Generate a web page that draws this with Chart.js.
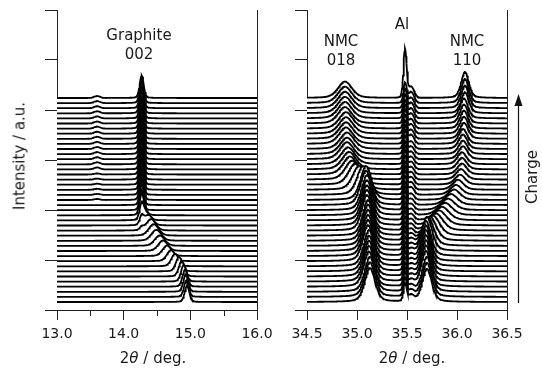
<!DOCTYPE html>
<html>
<head>
<meta charset="utf-8">
<script src="https://cdn.jsdelivr.net/npm/chart.js@4.4.0/dist/chart.umd.min.js"></script>
<style>
  body { margin: 0; background: #fff; }
  #wrap { position: relative; width: 542px; height: 373px; font-family: "DejaVu Sans", sans-serif; color: #1a1a1a; }
  canvas { position: absolute; top: 0; }
  .lbl { position: absolute; white-space: nowrap; font-size: 15px; line-height: 1; transform: translate(-50%, -50%); }
  .rot { transform: translate(-50%, -50%) rotate(-90deg); }
  svg { position: absolute; left: 0; top: 0; }
</style>
</head>
<body>
<div id="wrap">
  <canvas id="graphiteChart" width="285" height="373" style="left:0"></canvas>
  <canvas id="nmcChart" width="272" height="373" style="left:270px"></canvas>

  <div class="lbl" style="left:139px;top:35px">Graphite</div>
  <div class="lbl" style="left:139px;top:54px">002</div>
  <div class="lbl" style="left:341px;top:41px">NMC</div>
  <div class="lbl" style="left:341px;top:60px">018</div>
  <div class="lbl" style="left:402px;top:24px">Al</div>
  <div class="lbl" style="left:467px;top:41px">NMC</div>
  <div class="lbl" style="left:467px;top:60px">110</div>

  <div class="lbl" style="left:153px;top:358px">2<i>θ</i> / deg.</div>
  <div class="lbl" style="left:412px;top:358px">2<i>θ</i> / deg.</div>
  <div class="lbl rot" style="left:20px;top:156px">Intensity / a.u.</div>
  <div class="lbl rot" style="left:532px;top:177px">Charge</div>

  <svg width="542" height="373">
    <line x1="518.5" y1="303" x2="518.5" y2="104" stroke="#111" stroke-width="1.2"/>
    <polygon points="518.5,94 514.5,106 522.5,106" fill="#111"/>
  </svg>
</div>

<script>
// Scans are stacked bottom (0) to top (40)
const SCANS = 41;
const OFFSET_BASE = 0.16;
const OFFSET_STEP = 0.102;

// Graphite 002 region: peak shifting down towards graphite position
const graphiteShiftPos = [14.95, 14.94, 14.93, 14.92, 14.90, 14.87, 14.83, 14.77, 14.71, 14.65, 14.59, 14.54, 14.49, 14.45, 14.41, 14.37, 14.33, 14.30];
const graphiteShiftHeight = [0.32, 0.33, 0.34, 0.34, 0.33, 0.31, 0.29, 0.25, 0.22, 0.21, 0.21, 0.21, 0.22, 0.23, 0.23, 0.21, 0.17, 0.10];
const graphiteShiftWidth = [0.035, 0.035, 0.036, 0.038, 0.040, 0.043, 0.047, 0.055, 0.062, 0.068, 0.072, 0.075, 0.075, 0.074, 0.070, 0.065, 0.058, 0.050];
const GRAPHITE_002 = 14.27;
const graphiteSharpHeight = [0, 0, 0, 0, 0, 0, 0, 0, 0, 0, 0, 0, 0, 0,
  0.06, 0.16, 0.28, 0.36, 0.40, 0.42, 0.43, 0.44, 0.44, 0.45, 0.44, 0.45, 0.44, 0.45,
  0.44, 0.45, 0.44, 0.45, 0.44, 0.45, 0.44, 0.45, 0.44, 0.45, 0.44, 0.45, 0.45];
const graphiteBumpHeight = [0, 0, 0, 0, 0, 0, 0, 0, 0, 0, 0, 0, 0, 0, 0, 0, 0, 0, 0, 0,
  0.02, 0.02, 0.02, 0.02, 0.02, 0.02,
  0.04, 0.04, 0.04, 0.04, 0.04, 0.04, 0.04, 0.04, 0.04, 0.04, 0.04, 0.04, 0.04, 0.04, 0.04];

// NMC region
const nmc018Pos = [35.13, 35.13, 35.13, 35.12, 35.12, 35.12, 35.12, 35.12, 35.11, 35.11, 35.11,
  35.11, 35.11, 35.11, 35.10, 35.10, 35.10, 35.10, 35.10, 35.09, 35.09,
  35.06, 35.02, 34.98, 34.95, 34.93, 34.92, 34.91, 34.90, 34.90, 34.90,
  34.89, 34.89, 34.89, 34.89, 34.88, 34.88, 34.88, 34.88, 34.88, 34.88];
const nmc018Height = [0.68, 0.69, 0.70, 0.70, 0.71, 0.71, 0.71, 0.72, 0.72, 0.72, 0.72,
  0.72, 0.72, 0.71, 0.71, 0.71, 0.70, 0.70, 0.70, 0.69, 0.68,
  0.58, 0.48, 0.42, 0.38, 0.36, 0.35, 0.34, 0.34, 0.33, 0.33,
  0.33, 0.33, 0.33, 0.33, 0.33, 0.33, 0.33, 0.33, 0.33, 0.33];
const nmc018Width = [0.052, 0.052, 0.052, 0.052, 0.052, 0.052, 0.052, 0.052, 0.052, 0.052, 0.052,
  0.052, 0.052, 0.052, 0.052, 0.052, 0.052, 0.053, 0.054, 0.055, 0.056,
  0.060, 0.064, 0.067, 0.069, 0.070, 0.070, 0.070, 0.070, 0.070, 0.070,
  0.070, 0.070, 0.070, 0.070, 0.070, 0.070, 0.070, 0.070, 0.070, 0.070];

const nmc110Pos = [35.70, 35.70, 35.70, 35.69, 35.69, 35.69, 35.69, 35.69, 35.69, 35.69, 35.70,
  35.71, 35.73, 35.76, 35.79, 35.82, 35.85, 35.88, 35.91, 35.94, 35.97, 35.99, 36.01, 36.03, 36.04,
  36.05, 36.05, 36.05, 36.06, 36.06, 36.06, 36.06, 36.07, 36.07, 36.07, 36.07, 36.07, 36.08, 36.08, 36.08, 36.08];
const nmc110Height = [0.66, 0.68, 0.70, 0.71, 0.72, 0.72, 0.72, 0.72, 0.71, 0.70, 0.68,
  0.58, 0.48, 0.40, 0.34, 0.30, 0.27, 0.25, 0.23, 0.22, 0.21, 0.20, 0.20, 0.20, 0.21,
  0.22, 0.23, 0.24, 0.26, 0.27, 0.29, 0.30, 0.32, 0.34, 0.36, 0.38, 0.40, 0.42, 0.45, 0.48, 0.52];
const nmc110Width = [0.048, 0.048, 0.048, 0.048, 0.048, 0.048, 0.048, 0.048, 0.048, 0.050, 0.052,
  0.058, 0.064, 0.068, 0.072, 0.074, 0.074, 0.072, 0.070, 0.066, 0.062, 0.058, 0.055, 0.052, 0.050,
  0.048, 0.047, 0.046, 0.045, 0.044, 0.043, 0.042, 0.042, 0.041, 0.040, 0.040, 0.040, 0.039, 0.039, 0.038, 0.038];

const AL_POS = 35.48;
const alHeight = [0.34, 0.35, 0.36, 0.35, 0.34, 0.35, 0.36, 0.35, 0.34, 0.35, 0.36,
  0.35, 0.34, 0.35, 0.36, 0.35, 0.34, 0.35, 0.36, 0.35, 0.34,
  0.35, 0.36, 0.35, 0.34, 0.35, 0.36, 0.35, 0.34, 0.35, 0.36,
  0.35, 0.34, 0.35, 0.36, 0.35, 0.34, 0.35, 0.36, 0.38, 0.95];
const SHOULDER_POS = 35.54;
const shoulderHeight = [0.12, 0.12, 0.12, 0.12, 0.12, 0.12, 0.12, 0.12, 0.12, 0.12, 0.12,
  0.12, 0.12, 0.12, 0.12, 0.12, 0.12, 0.12, 0.12, 0.12, 0.12,
  0.15, 0.15, 0.15, 0.15, 0.15, 0.15, 0.15, 0.15, 0.15, 0.15,
  0.18, 0.18, 0.19, 0.19, 0.20, 0.20, 0.21, 0.21, 0.22, 0.22];

// pseudo-Voigt line shape
function profile(d, h, sigma, eta) {
  const g = Math.exp(-d * d / (2 * sigma * sigma));
  const hw = sigma * 1.1774;
  const l = 1 / (1 + (d * d) / (hw * hw));
  return h * ((1 - eta) * g + eta * l);
}

function grid(start, step, count) {
  const xs = [];
  for (let i = 0; i <= count; i++) xs.push(Math.round((start + i * step) * 1000) / 1000);
  return xs;
}

function buildTraces(xs, peaksFor) {
  const sets = [];
  for (let k = 0; k < SCANS; k++) {
    const peaks = peaksFor(k).filter(p => p.h > 0);
    const base = OFFSET_BASE + OFFSET_STEP * k;
    const data = xs.map(x => {
      let y = base;
      peaks.forEach(p => { y += profile(x - p.c, p.h, p.w, p.eta); });
      return { x, y };
    });
    sets.push({
      data,
      borderColor: "#000",
      borderWidth: 1.8,
      backgroundColor: "#fff",
      fill: "start",
      pointRadius: 0,
      tension: 0,
    });
  }
  return sets;
}

const graphiteSets = buildTraces(grid(13, 0.01, 300), k => [
  { c: graphiteShiftPos[k], h: graphiteShiftHeight[k] || 0, w: graphiteShiftWidth[k], eta: 0.25 },
  { c: GRAPHITE_002, h: graphiteSharpHeight[k], w: 0.03, eta: 0.25 },
  { c: 13.6, h: graphiteBumpHeight[k], w: 0.045, eta: 0 },
]);

const nmcSets = buildTraces(grid(34.5, 0.005, 400), k => [
  { c: nmc018Pos[k], h: nmc018Height[k], w: nmc018Width[k], eta: 0.4 },
  { c: nmc110Pos[k], h: nmc110Height[k], w: nmc110Width[k], eta: 0.4 },
  { c: AL_POS, h: alHeight[k], w: 0.016, eta: 0.15 },
  { c: SHOULDER_POS, h: shoulderHeight[k], w: 0.03, eta: 0 },
]);

// short minor ticks under the x axis
const minorTicks = {
  id: "minorTicks",
  afterDraw(chart, args, opts) {
    if (!opts.values) return;
    const { ctx } = chart;
    const x = chart.scales.x;
    ctx.save();
    ctx.strokeStyle = "#222";
    ctx.lineWidth = 1;
    opts.values.forEach(v => {
      const px = Math.round(x.getPixelForValue(v)) + 0.5;
      ctx.beginPath();
      ctx.moveTo(px, x.top);
      ctx.lineTo(px, x.top + 6);
      ctx.stroke();
    });
    ctx.restore();
  },
};

function panel(canvasId, datasets, xMin, xMax, step, leftWidth, padRight, minor) {
  return new Chart(document.getElementById(canvasId), {
    type: "line",
    data: { datasets },
    plugins: [minorTicks],
    options: {
      responsive: false,
      animation: false,
      events: [],
      parsing: false,
      layout: { padding: { top: 10, right: padRight, left: 0, bottom: 0 } },
      plugins: {
        legend: { display: false },
        tooltip: { enabled: false },
        minorTicks: { values: minor },
      },
      scales: {
        x: {
          type: "linear",
          min: xMin,
          max: xMax,
          z: 1,
          ticks: {
            stepSize: step,
            autoSkip: false,
            maxRotation: 0,
            padding: 6,
            color: "#1a1a1a",
            font: { family: "DejaVu Sans", size: 14 },
            callback: v => v.toFixed(1),
          },
          grid: { drawOnChartArea: false, tickLength: 10, color: "#222" },
          border: { color: "#222", width: 1 },
          afterFit: s => { s.height = 63; s.paddingLeft = 0; s.paddingRight = 0; },
        },
        y: {
          min: 0,
          max: 6,
          z: 1,
          ticks: { stepSize: 1, display: false },
          grid: { drawOnChartArea: false, tickLength: 12, color: "#222" },
          border: { color: "#222", width: 1 },
          afterFit: s => { s.width = leftWidth; },
        },
        yRight: {
          position: "right",
          min: 0,
          max: 6,
          z: 1,
          ticks: { display: false },
          grid: { display: false },
          border: { color: "#222", width: 1 },
          afterFit: s => { s.width = 0; },
        },
      },
    },
  });
}

panel("graphiteChart", graphiteSets, 13, 16, 1, 57, 28, [13.5, 14.5, 15.5]);
panel("nmcChart", nmcSets, 34.5, 36.5, 0.5, 37, 35, null);
</script>
</body>
</html>
